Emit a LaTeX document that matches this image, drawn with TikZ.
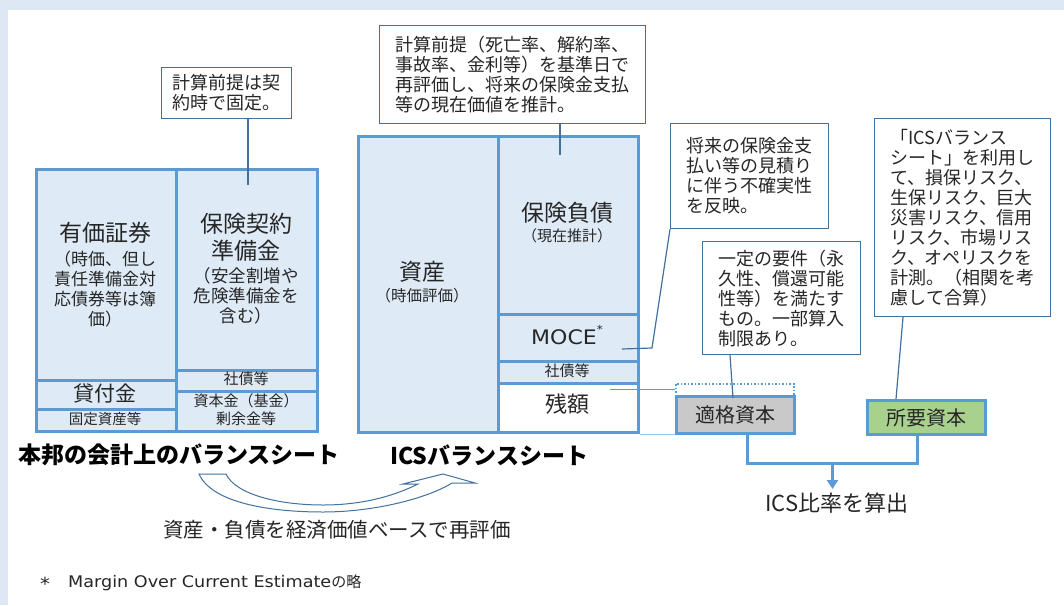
\documentclass[tikz,border=0pt]{standalone}
\usepackage{fontspec}
\setmainfont{Noto Sans CJK JP}
\newfontfamily\dejavu[FakeStretch=1.1]{DejaVu Sans}
\usetikzlibrary{arrows.meta,calc}
\definecolor{bsblue}{HTML}{5B9BD5}
\definecolor{bsfill}{HTML}{DEEBF7}
\definecolor{framec}{HTML}{DEE8F4}
\definecolor{callline}{HTML}{41719C}
\definecolor{txt}{HTML}{262626}
\definecolor{grayfill}{HTML}{C9C9C9}
\definecolor{greenfill}{HTML}{A9D18E}
\newcommand{\fs}[2]{\fontsize{#1}{#2}\selectfont}
\begin{document}
\begin{tikzpicture}[x=1pt,y=-1pt,
  bs/.style={draw=bsblue, line width=3pt, fill=bsfill, inner sep=0pt, anchor=north west},
  callout/.style={draw=callline, line width=1.2pt, fill=white, anchor=north west, align=left,
    inner sep=0pt, font=\fs{18}{20}, text=txt},
  lbl/.style={text=txt, inner sep=0pt, align=center},
  cline/.style={draw=callline, line width=1.2pt},
  thinb/.style={draw=bsblue, line width=1pt},
  ]
\useasboundingbox (0,0) rectangle (1064,605);
\fill[framec] (0,0) rectangle (1064,605);
\fill[white] (8,10) rectangle (1064,605);

% ---------- left balance sheet ----------
\node[bs, minimum width=140pt, minimum height=211pt] (yuka) at (35,168) {};
\node[bs, minimum width=140pt, minimum height=29pt] (kashi) at (35,379) {};
\node[bs, minimum width=140pt, minimum height=22pt] (kotei) at (35,408) {};
\node[bs, minimum width=141pt, minimum height=201pt] (junbi) at (175,168) {};
\node[bs, minimum width=141pt, minimum height=21pt] (shasaiA) at (175,369) {};
\node[bs, minimum width=141pt, minimum height=40pt] (shihon) at (175,390) {};

\node[lbl, font=\fs{23}{27}] (tyuka) at (105,233) {有価証券};
\node[lbl, font=\fs{17}{20}] (tyukasub) at (105,289) {（時価、但し\\責任準備金対\\応債券等は簿\\価）};
\node[lbl, font=\fs{23}{27}] (tjunbi) at (246,237) {保険契約\\準備金};
\node[lbl, font=\fs{17.5}{20}] (tjunbisub) at (246,296) {（安全割増や\\危険準備金を\\含む）};
\node[lbl, font=\fs{15}{18}] (tshasaiA) at (246,379) {社債等};
\node[lbl, font=\fs{21}{24}] (tkashi) at (105,394) {貸付金};
\node[lbl, font=\fs{14.5}{17}] (tkotei) at (105,419) {固定資産等};
\node[lbl, font=\fs{15}{18}] (tshihon) at (246,410) {資本金（基金）\\剰余金等};

% ---------- ICS balance sheet ----------
\node[bs, minimum width=140pt, minimum height=296pt] (shisan) at (357,135) {};
\node[bs, minimum width=140pt, minimum height=178pt] (hoken) at (497,135) {};
\node[bs, minimum width=140pt, minimum height=47pt] (moce) at (497,313) {};
\node[bs, minimum width=140pt, minimum height=22pt] (shasaiB) at (497,360) {};
\node[bs, fill=white, minimum width=140pt, minimum height=49pt] (zangaku) at (497,382) {};

\node[lbl, font=\fs{23}{27}] (tshisan) at (422,272) {資産};
\node[lbl, font=\fs{15.5}{18}] (tshisansub) at (422,296) {（時価評価）};
\node[lbl, font=\fs{23}{27}] (thoken) at (567,213) {保険負債};
\node[lbl, font=\fs{15}{18}] (thokensub) at (567,236) {（現在推計）};
\node[lbl, font=\dejavu\fs{20}{24}] (tmoce) at (567,335) {MOCE\raisebox{0.55em}{\fs{11}{12}*}};
\node[lbl, font=\fs{15}{18}] (tshasaiB) at (567,371) {社債等};
\node[lbl, font=\fs{22}{26}] (tzangaku) at (567,404) {残額};

% ---------- capital boxes ----------
\node[draw=bsblue, line width=1.5pt, dotted, inner sep=0pt, anchor=north west,
      minimum width=118pt, minimum height=12pt] (dotbox) at (675,383) {};
\node[bs, fill=grayfill, minimum width=118pt, minimum height=37pt, font=\fs{20}{24}, text=txt]
      (tekikaku) at (675,395) {適格資本};
\node[bs, fill=greenfill, minimum width=118pt, minimum height=34pt, font=\fs{20}{24}, text=txt]
      (shoyo) at (866,399) {所要資本};

% ---------- callouts ----------
\node[callout, minimum width=130pt, minimum height=51pt] (co1) at (161,67)
  {計算前提は契\\約時で固定。};
\node[callout, minimum width=266pt, minimum height=98pt] (co2) at (379,25)
  {計算前提（死亡率、解約率、\\事故率、金利等）を基準日で\\再評価し、将来の保険金支払\\等の現在価値を推計。};
\node[callout, minimum width=158pt, minimum height=105pt] (co3) at (670,123)
  {将来の保険金支\\払い等の見積り\\に伴う不確実性\\を反映。};
\node[callout, minimum width=158pt, minimum height=113pt] (co4) at (702,241)
  {一定の要件（永\\久性、償還可能\\性等）を満たす\\もの。一部算入\\制限あり。};
\node[callout, minimum width=176pt, minimum height=198pt] (co5) at (874,118)
  {「ICSバランス\\シート」を利用し\\て、損保リスク、\\生保リスク、巨大\\災害リスク、信用\\リスク、市場リス\\ク、オペリスクを\\計測。（相関を考\\慮して合算）};

% callout leaders
\coordinate (c1end) at (248,185);
\draw[cline] (c1end |- co1.south) -- (c1end);
\coordinate (c2end) at (560,155);
\draw[cline] (c2end |- co2.south) -- (c2end);
\coordinate (c3end) at (622,349);
\draw[cline] (c3end) -- (652,348) -- (co3.south west);
\draw[cline] ($(co4.south west)+(28,0)$) -- ($(tekikaku.north west)+(58,3)$);
\draw[cline] ($(co5.south west)+(29,0)$) -- ($(shoyo.north west)+(30,0)$);

% links from residual to eligible capital
\coordinate (z1) at (610,389);
\draw[thinb] (z1) -- (z1 -| dotbox.west);
\draw[draw=bsblue!60, line width=1pt] (zangaku.south east) -- (zangaku.south east -| tekikaku.west);

% ---------- ICS ratio ----------
\node[lbl, font=\fs{22}{26}] (ratio) at (837,503) {ICS比率を算出};
\coordinate (jA) at ($(tekikaku.south)+(12,0)$);
\coordinate (jB) at ($(shoyo.south)+(-9,0)$);
\coordinate (jy) at (0,463);
\draw[bsblue, line width=3pt] (jA) -- (jA |- jy) -- (jB |- jy) -- (jB);
\coordinate (jm) at ($(jA |- jy)!0.5!(jB |- jy)$);
\draw[bsblue, line width=3pt, -{Triangle[width=11pt,length=9pt]}] (jm) -- (jm |- 0,489);

% ---------- titles ----------
\node[lbl, anchor=west, font=\bfseries\fs{23}{27}, text=black] (title1) at (18,455) {本邦の会計上のバランスシート};
\node[lbl, anchor=west, font=\bfseries\fs{23}{27}, text=black] (title2) at (390,455) {ICSバランスシート};

% curved arrow
\draw[callline, line width=1pt, fill=white, line join=miter]
  (199,474) .. controls (212,503) and (270,512) .. (323,512)
  .. controls (375,512) and (428,498) .. (452,483)
  -- (475,483) -- (443,474) -- (403,484) -- (418,484)
  .. controls (392,497) and (360,505) .. (323,505)
  .. controls (280,505) and (236,495) .. (226,474) -- cycle;

\node[lbl, anchor=west, font=\fs{20.5}{24}] (reval) at (163,530) {資産・負債を経済価値ベースで再評価};

% footnote
\node[lbl, font=\dejavu\fs{18}{18}] (star) at (45,584) {*};
\node[lbl, anchor=west] (foot) at (68,583) {{\dejavu\fs{16}{18}Margin Over Current Estimate}{\fs{15}{18}の略}};
\end{tikzpicture}
\end{document}
